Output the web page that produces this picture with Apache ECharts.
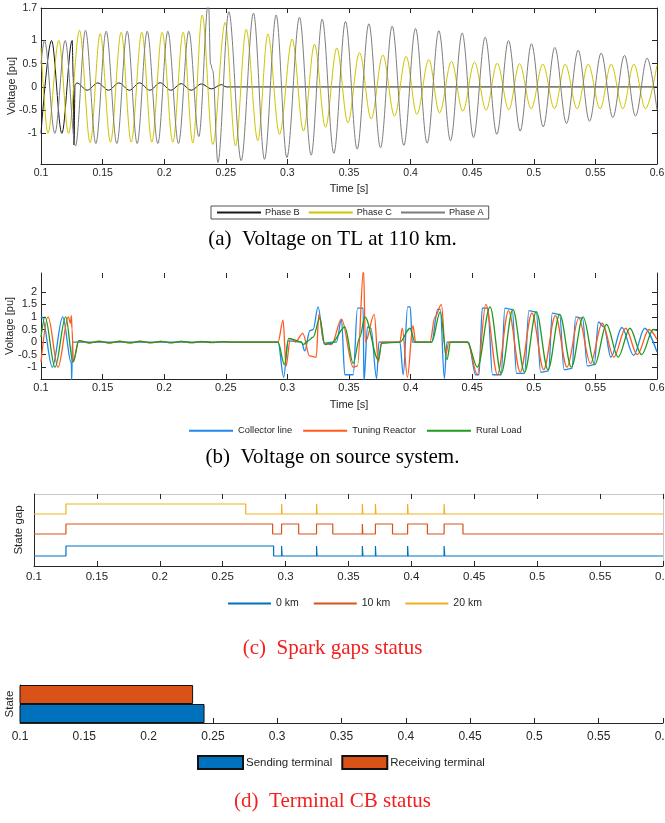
<!DOCTYPE html>
<html><head><meta charset="utf-8">
<script src="https://cdn.jsdelivr.net/npm/echarts@6/dist/echarts.min.js"></script>
<style>html,body{margin:0;padding:0;background:#fff}#c{width:665px;height:823px}</style>
</head><body><div id="c"></div><script>
// ---------- (a) Voltage on TL at 110 km : [time s, voltage pu] (extrema)
const phaseB = [[0.1,-1.0],[0.10852,1.0],[0.11691,-1.0],[0.1253,1.0],[0.1262,0.2],[0.1268,-1.25],[0.1276,0.05],[0.12909,0.086],[0.13747,-0.071],[0.14613,0.086],[0.15479,-0.071],[0.16318,0.086],[0.17183,-0.071],[0.17995,0.088],[0.18834,-0.071],[0.19673,0.09],[0.20538,-0.071],[0.21377,0.07],[0.22189,-0.071],[0.23027,0.064],[0.23839,-0.043],[0.24651,0.05],[0.2503,0],[0.6,0]];
const phaseC = [[0.1,0.84],[0.10555,-1.0],[0.11447,1.0],[0.12232,-1.0],[0.13125,1.22],[0.13991,-1.2],[0.14802,1.15],[0.15641,-1.19],[0.16507,1.18],[0.17319,-1.19],[0.18184,1.18],[0.18996,-1.19],[0.19835,1.18],[0.20701,-1.19],[0.21539,1.18],[0.22324,-1.21],[0.23082,1.55],[0.23947,-1.24],[0.24948,1.39],[0.25787,-1.27],[0.26653,1.24],[0.276,-1.16],[0.28412,1.14],[0.29359,-1.02],[0.30387,1.03],[0.31307,-0.95],[0.322,0.92],[0.33092,-0.87],[0.34012,0.84],[0.34905,-0.77],[0.35852,0.74],[0.36799,-0.69],[0.37746,0.69],[0.38693,-0.63],[0.3964,0.66],[0.40506,-0.59],[0.4148,0.59],[0.42345,-0.56],[0.43319,0.55],[0.44239,-0.52],[0.45186,0.53],[0.46133,-0.5],[0.47026,0.51],[0.47973,-0.49],[0.48839,0.5],[0.49786,-0.47],[0.50733,0.49],[0.5168,-0.47],[0.52546,0.49],[0.53519,-0.47],[0.54412,0.49],[0.55386,-0.47],[0.56279,0.49],[0.57226,-0.47],[0.58119,0.49],[0.59066,-0.47],[0.6,0.47]];
const phaseA = [[0.1,0.5],[0.10284,1.0],[0.11123,-1.0],[0.11962,1.0],[0.128,-1.27],[0.13612,1.22],[0.14451,-1.22],[0.15289,1.2],[0.16155,-1.22],[0.16994,1.2],[0.17806,-1.22],[0.18617,1.2],[0.19483,-1.22],[0.20295,1.2],[0.21161,-1.22],[0.21999,1.2],[0.22811,-1.07],[0.23596,1.85],[0.23758,0.5],[0.23947,0.35],[0.24353,-1.63],[0.25246,1.62],[0.26247,-1.59],[0.27248,1.59],[0.28141,-1.56],[0.29088,1.55],[0.29954,-1.52],[0.30982,1.5],[0.31929,-1.47],[0.32822,1.46],[0.33769,-1.43],[0.34716,1.41],[0.35663,-1.34],[0.3661,1.36],[0.37557,-1.31],[0.38504,1.31],[0.39451,-1.26],[0.40398,1.26],[0.41345,-1.21],[0.42292,1.21],[0.43238,-1.16],[0.44185,1.16],[0.45105,-1.09],[0.46052,1.07],[0.46999,-1.02],[0.47946,1.0],[0.48893,-0.95],[0.49813,0.93],[0.5076,-0.86],[0.51707,0.85],[0.52654,-0.79],[0.53601,0.79],[0.54521,-0.74],[0.55468,0.73],[0.56414,-0.66],[0.57361,0.68],[0.58254,-0.63],[0.59201,0.62],[0.6,-0.5]];
const voltTicksA = [-1,-0.5,0,0.5,1,1.7];
const voltTicksARight = [-1,-0.5,0,0.5,1];

// ---------- (b) Voltage on source system : [time s, voltage pu]
const collectorLine = [[0.1,0.97],[0.10081,1.0],[0.10921,-1.0],[0.11762,1.0],[0.12466,-0.85],[0.12493,-1.6],[0.12547,0],[0.2924,0],[0.297,-1.4],[0.3005,0.05],[0.3114,0],[0.3141,-0.35],[0.3182,0.45],[0.3209,0.5],[0.3249,1.4],[0.3298,-0.05],[0.3358,0],[0.3398,0],[0.3439,0.9],[0.3466,-1.3],[0.3534,-1.3],[0.3569,1.35],[0.3615,1.35],[0.3621,-1.6],[0.365,0.6],[0.3678,0.55],[0.3724,-1.45],[0.3743,0],[0.3913,0],[0.394,-1.3],[0.3976,1.4],[0.3997,1.4],[0.4014,0],[0.4171,0],[0.422,1.3],[0.4241,1.3],[0.4274,-1.45],[0.4295,0],[0.4469,0],[0.4528,-1.3],[0.4555,-1.3],[0.4582,1.35],[0.4626,1.35],[0.4665,-1.3],[0.4735,-1.3],[0.4765,1.35],[0.4825,1.3],[0.486,-1.25],[0.4925,-1.25],[0.496,1.25],[0.502,1.2],[0.5055,-1.2],[0.512,-1.15],[0.515,1.15],[0.521,1.1],[0.5245,-1.1],[0.531,-1.05],[0.534,1.0],[0.5395,0.95],[0.5435,-0.95],[0.549,-0.9],[0.5525,0.8],[0.557,0.6],[0.5625,-0.6],[0.5715,0.58],[0.581,-0.53],[0.59,0.55],[0.6,-0.4]];
const tuningReactor = [[0.1,-0.8],[0.10569,1.0],[0.11382,-1.0],[0.12222,1.0],[0.12385,0.75],[0.12466,1.05],[0.1252,0.5],[0.12629,-0.78],[0.13035,0.05],[0.1387,-0.04],[0.147,0.04],[0.1553,-0.04],[0.1637,0.035],[0.172,-0.035],[0.1803,0.035],[0.1887,-0.03],[0.197,0.03],[0.2053,-0.03],[0.2137,0.03],[0.222,-0.025],[0.2303,0.025],[0.2387,-0.02],[0.247,0.02],[0.2553,0],[0.2924,0],[0.2965,0.87],[0.2989,-0.95],[0.3024,0.15],[0.3065,0],[0.3125,0.35],[0.318,-0.55],[0.3234,-0.6],[0.3255,1.1],[0.33,-0.05],[0.3358,-0.1],[0.3439,0.91],[0.3534,-1.0],[0.3569,-0.95],[0.3618,2.9],[0.3633,0.0],[0.3705,1.1],[0.3738,-0.8],[0.3765,0],[0.3913,0],[0.3933,0.55],[0.3974,-1.4],[0.4019,0.65],[0.4041,0],[0.4157,0],[0.4198,1.0],[0.425,1.5],[0.4285,-0.5],[0.4311,0],[0.4461,0],[0.4542,-1.3],[0.461,1.5],[0.4705,-1.3],[0.4795,1.25],[0.489,-1.2],[0.4985,1.15],[0.508,-1.1],[0.5175,1.05],[0.527,-1.0],[0.5365,0.95],[0.546,-0.85],[0.5555,0.75],[0.565,-0.6],[0.5745,0.55],[0.584,-0.5],[0.5935,0.5],[0.6,0.1]];
const ruralLoad = [[0.1,0.2],[0.10325,1.0],[0.11138,-1.0],[0.12005,1.0],[0.12602,-0.8],[0.13089,0.06],[0.1392,-0.03],[0.1475,0.03],[0.1558,-0.03],[0.1642,0.03],[0.1725,-0.03],[0.1808,0.03],[0.1892,-0.025],[0.1975,0.025],[0.2058,-0.025],[0.2142,0.025],[0.2225,-0.02],[0.2308,0.02],[0.2392,-0.015],[0.2475,0.015],[0.2553,0],[0.2924,0],[0.2976,-0.9],[0.301,0.15],[0.3114,0],[0.3128,-0.1],[0.3168,0.05],[0.3209,0.2],[0.3263,0.95],[0.3304,-0.1],[0.3358,-0.05],[0.3466,0.6],[0.3534,-0.85],[0.3588,0.2],[0.3629,1.0],[0.3738,-0.7],[0.3765,-0.05],[0.3913,0],[0.3995,0.55],[0.4035,0],[0.4171,0],[0.4241,1.2],[0.4295,-0.7],[0.4325,0],[0.4461,0],[0.4542,-1.0],[0.4645,1.4],[0.4735,-1.25],[0.483,1.3],[0.4925,-1.2],[0.502,1.2],[0.5115,-1.1],[0.521,1.1],[0.5305,-1.0],[0.54,1.0],[0.5495,-0.9],[0.559,0.7],[0.5685,-0.6],[0.578,0.55],[0.5875,-0.5],[0.597,0.5],[0.6,0.45]];
const voltTicksB = [-1,-0.5,0,0.5,1,1.5,2];

// ---------- (c) Spark gaps status : [time s, state 0/1]
const gap0km = [[0.1,0],[0.1254,1],[0.2905,0],[0.2968,1],[0.2972,0],[0.3246,1],[0.325,0],[0.361,1],[0.3615,0],[0.3714,1],[0.3718,0],[0.397,1],[0.3974,0],[0.426,1],[0.4265,0],[0.6,0]];
const gap10km = [[0.1,0],[0.1254,1],[0.2897,0],[0.2968,1],[0.3104,0],[0.3246,1],[0.3375,0],[0.361,1],[0.3614,0],[0.3714,1],[0.385,0],[0.397,1],[0.4127,0],[0.426,1],[0.441,0],[0.6,0]];
const gap20km = [[0.1,0],[0.1254,1],[0.2683,0],[0.2968,1],[0.2972,0],[0.3246,1],[0.325,0],[0.361,1],[0.3614,0],[0.3714,1],[0.3718,0],[0.397,1],[0.3974,0],[0.426,1],[0.4264,0],[0.6,0]];
const gapOffset = [0.5, 1.6, 2.6];   // plotted level of each gap trace
const gapPulse = 0.5;                 // plotted height of state 1

// ---------- (d) Terminal CB status
const cbCategories = ['Sending terminal', 'Receiving terminal'];
const cbOpenTime = [0.2435, 0.2346];

// ---------- styling
const FONT = "'Liberation Sans', Arial, Helvetica, sans-serif";
const SERIF = "'Liberation Serif', 'Times New Roman', serif";
const AX = '#262626';
const lineAx = (show, color) => ({show: show, onZero: false, lineStyle: {color: color || AX, width: 1}});
const tick = (show, vals) => { const t = {show: show, inside: true, length: 5, lineStyle: {color: AX, width: 1}}; if (vals) t.customValues = vals; return t; };
const nameTS = (fs) => ({color: AX, fontFamily: FONT, fontSize: fs});

function xBottom(grid, fs, margin, name, nameGap) {
  return {type: 'value', gridIndex: grid, min: 0.1, max: 0.6, interval: 0.05, position: 'bottom',
    axisLine: lineAx(true), axisTick: tick(true), splitLine: {show: false},
    axisLabel: {color: AX, fontFamily: FONT, fontSize: fs, margin: margin, showMinLabel: true, showMaxLabel: true},
    name: name || '', nameLocation: 'middle', nameGap: nameGap || 0, nameMoveOverlap: false,
    nameTextStyle: nameTS(11)};
}
function xTop(grid, showLine, lineColor) {
  return {type: 'value', gridIndex: grid, min: 0.1, max: 0.6, interval: 0.05, position: 'top',
    axisLine: lineAx(showLine, lineColor), axisTick: tick(true), axisLabel: {show: false}, splitLine: {show: false}};
}

const tuneLine = (name, data, color, w, xi, yi) => ({
  type: 'line', name: name, data: data, xAxisIndex: xi, yAxisIndex: yi,
  showSymbol: false, symbol: 'none', smooth: 0.34, smoothMonotone: 'x',
  lineStyle: {color: color, width: w}, itemStyle: {color: color}, z: 2, silent: true
});
const stepLine = (name, data, k, color) => ({
  type: 'line', name: name, xAxisIndex: 4, yAxisIndex: 4, step: 'end',
  data: data.map(p => [p[0], gapOffset[k] + p[1] * gapPulse]),
  showSymbol: false, symbol: 'none', lineStyle: {color: color, width: 1.2}, itemStyle: {color: color}, silent: true
});

const capStyle = (color) => ({fontFamily: SERIF, fontSize: 21, fontWeight: 'normal', color: color});
const hideSym = {color: 'transparent', borderWidth: 0, opacity: 0};

const option = {
  animation: false,
  backgroundColor: '#fff',
  title: [
    {text: '(a)  Voltage on TL at 110 km.', left: 'center', top: 229, padding: 0, textStyle: capStyle('#000')},
    {text: '(b)  Voltage on source system.', left: 'center', top: 447, padding: 0, textStyle: capStyle('#000')},
    {text: '(c)  Spark gaps status', left: 'center', top: 638, padding: 0, textStyle: capStyle('#f42020')},
    {text: '(d)  Terminal CB status', left: 'center', top: 791, padding: 0, textStyle: capStyle('#f42020')}
  ],
  grid: [
    {left: 41, top: 8, width: 616, height: 156, outerBoundsMode: 'none', containLabel: false},
    {left: 41, top: 273, width: 616, height: 106, outerBoundsMode: 'none', containLabel: false},
    {left: 34, top: 494, width: 629, height: 72, outerBoundsMode: 'none', containLabel: false},
    {left: 20, top: 685, width: 643, height: 38, outerBoundsMode: 'none', containLabel: false}
  ],
  legend: [
    {data: ['Phase B', 'Phase C', 'Phase A'], left: 211, top: 206, orient: 'horizontal',
      itemWidth: 44, itemHeight: 10, itemGap: 8, padding: [2, 5], borderColor: AX, borderWidth: 0.8,
      itemStyle: hideSym, selectedMode: false, textStyle: {fontFamily: FONT, fontSize: 9.2, color: AX, padding: [0,0,0,-1]}},
    {data: ['Collector line', 'Tuning Reactor', 'Rural Load'], left: 183, top: 421,
      itemWidth: 44, itemHeight: 12, itemGap: 10, selectedMode: false, itemStyle: hideSym,
      textStyle: {fontFamily: FONT, fontSize: 9.4, color: AX}},
    {data: ['0 km', '10 km', '20 km'], left: 222, top: 593,
      itemWidth: 43, itemHeight: 12, itemGap: 14, selectedMode: false, itemStyle: hideSym,
      textStyle: {fontFamily: FONT, fontSize: 10.5, color: AX}},
    {data: ['Sending terminal', 'Receiving terminal'], left: 192, top: 750, icon: 'rect',
      itemWidth: 45, itemHeight: 13, itemGap: 9, selectedMode: false,
      textStyle: {fontFamily: FONT, fontSize: 11.5, color: AX, padding: [0,0,0,-2]}}
  ],
  xAxis: [
    xBottom(0, 10.5, 4, 'Time [s]', 19),
    xTop(0, true),
    xBottom(1, 11, 3, 'Time [s]', 20),
    xTop(1, false),
    xBottom(2, 11.5, 5),
    xTop(2, true, '#c8c8c8'),
    xBottom(3, 12, 8)
  ],
  yAxis: [
    {type: 'value', gridIndex: 0, min: -1.66, max: 1.7, axisLine: lineAx(true), splitLine: {show: false},
      axisTick: tick(true, voltTicksA),
      axisLabel: {customValues: voltTicksA, color: AX, fontFamily: FONT, fontSize: 10.5, margin: 4},
      name: 'Voltage [pu]', nameLocation: 'middle', nameGap: 24, nameMoveOverlap: false, nameTextStyle: nameTS(11)},
    {type: 'value', gridIndex: 0, min: -1.66, max: 1.7, position: 'right', axisLine: lineAx(true),
      splitLine: {show: false}, axisTick: tick(true, voltTicksARight), axisLabel: {show: false}},
    {type: 'value', gridIndex: 1, min: -1.47, max: 2.75, axisLine: lineAx(true), splitLine: {show: false},
      axisTick: tick(true, voltTicksB),
      axisLabel: {customValues: voltTicksB, color: AX, fontFamily: FONT, fontSize: 11, margin: 4},
      name: 'Voltage [pu]', nameLocation: 'middle', nameGap: 26, nameMoveOverlap: false, nameTextStyle: nameTS(11)},
    {type: 'value', gridIndex: 1, min: -1.47, max: 2.75, position: 'right', axisLine: lineAx(true),
      splitLine: {show: false}, axisTick: tick(true, voltTicksB), axisLabel: {show: false}},
    {type: 'value', gridIndex: 2, min: 0, max: 3.6, axisLine: lineAx(true), splitLine: {show: false},
      axisTick: {show: false}, axisLabel: {show: false},
      name: 'State gap', nameLocation: 'middle', nameGap: 9, nameMoveOverlap: false, nameTextStyle: nameTS(11.5)},
    {type: 'value', gridIndex: 2, min: 0, max: 3.6, position: 'right', axisLine: lineAx(true, '#c8c8c8'),
      splitLine: {show: false}, axisTick: {show: false}, axisLabel: {show: false}},
    {type: 'category', gridIndex: 3, data: cbCategories, axisLine: lineAx(true), axisTick: {show: false},
      axisLabel: {show: false}, splitLine: {show: false},
      name: 'State', nameLocation: 'middle', nameGap: 4, nameMoveOverlap: false, nameTextStyle: nameTS(11.5)}
  ],
  series: [
    tuneLine('Phase B', phaseB, '#1a1a1a', 1, 0, 0),
    tuneLine('Phase C', phaseC, '#d0c400', 1, 0, 0),
    tuneLine('Phase A', phaseA, '#7d7d7d', 1, 0, 0),
    tuneLine('Collector line', collectorLine, '#1f88e8', 1.3, 2, 2),
    tuneLine('Tuning Reactor', tuningReactor, '#ff5a1e', 1.3, 2, 2),
    tuneLine('Rural Load', ruralLoad, '#1e9a1e', 1.3, 2, 2),
    stepLine('0 km', gap0km, 0, '#0072BD'),
    stepLine('10 km', gap10km, 1, '#D95319'),
    stepLine('20 km', gap20km, 2, '#EDB120'),
    {type: 'bar', name: cbCategories[0], xAxisIndex: 6, yAxisIndex: 6, data: [cbOpenTime[0], '-'],
      barGap: '-100%', barCategoryGap: '0%', itemStyle: {color: '#0072BD', borderColor: '#111', borderWidth: 1}, silent: true},
    {type: 'bar', name: cbCategories[1], xAxisIndex: 6, yAxisIndex: 6, data: ['-', cbOpenTime[1]],
      barGap: '-100%', barCategoryGap: '0%', itemStyle: {color: '#D95319', borderColor: '#111', borderWidth: 1}, silent: true}
  ]
};
const chart = echarts.init(document.getElementById('c'), null, {renderer: 'canvas'});
chart.setOption(option);
</script></body></html>
